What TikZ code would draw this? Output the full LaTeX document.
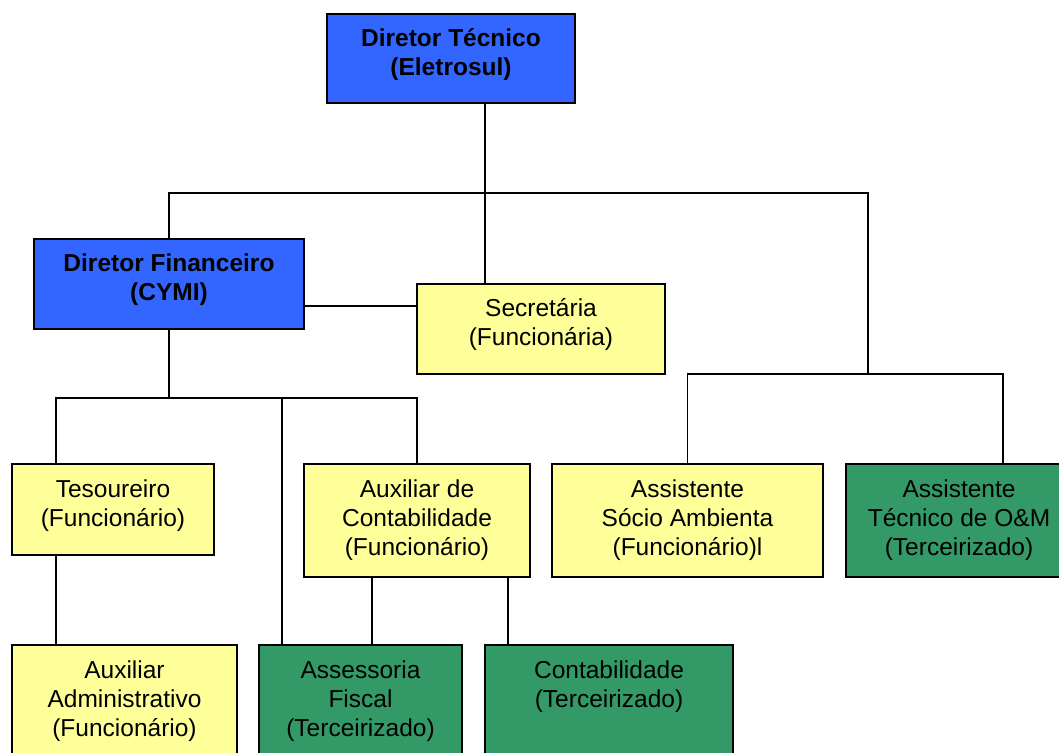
\documentclass[tikz,border=0pt]{standalone}
\usepackage{fontspec}
\setmainfont{Liberation Sans}
\definecolor{blu}{HTML}{3366FF}
\definecolor{yel}{HTML}{FFFF99}
\definecolor{grn}{HTML}{339966}
\newcommand{\ml}[1]{\begin{tabular}[t]{@{}c@{}}#1\end{tabular}}
\begin{document}
\begin{tikzpicture}[x=1pt,y=1pt,
  box/.style={draw=black, line width=1.3pt, inner sep=0pt, outer sep=0pt, anchor=north west},
  bluebox/.style={box, fill=blu},
  yelbox/.style={box, fill=yel},
  grnbox/.style={box, fill=grn},
  lbl/.style={anchor=base, inner sep=0pt, font=\fontsize{24.5}{29}\selectfont},
  lblb/.style={anchor=base, inner sep=0pt, font=\fontsize{24.5}{29}\selectfont\bfseries},
  wire/.style={draw=black, line width=1.3pt}]
\useasboundingbox (0,0) rectangle (1059,752);
\fill[white] (0,0) rectangle (1059,752);
% junction coordinates
\coordinate (bT) at (485,559);
\coordinate (bR) at (868,559);
\coordinate (bR2) at (868,378);
\coordinate (cOM) at (1003,378);
\coordinate (hS) at (304,446);
\coordinate (bF) at (169,354);
\coordinate (cT) at (56,354);
\coordinate (cA) at (282,354);
\coordinate (cX1) at (372,0);
\coordinate (cX2) at (508,0);
% boxes
\node[bluebox, minimum width=248pt, minimum height=89pt] (dt) at (327,738) {};
\node[bluebox, minimum width=270pt, minimum height=90pt] (df) at (34,513) {};
\node[yelbox, minimum width=248pt, minimum height=90pt] (sec) at (417,468) {};
\node[yelbox, minimum width=202pt, minimum height=91pt] (tes) at (12,288) {};
\node[yelbox, minimum width=226pt, minimum height=113pt] (auxc) at (304,288) {};
\node[yelbox, minimum width=271pt, minimum height=113pt] (soc) at (552,288) {};
\node[grnbox, minimum width=226pt, minimum height=113pt] (om) at (846,288) {};
\node[yelbox, minimum width=225pt, minimum height=120pt] (adm) at (12,107) {};
\node[grnbox, minimum width=203pt, minimum height=120pt] (asf) at (259,107) {};
\node[grnbox, minimum width=248pt, minimum height=120pt] (cont) at (485,107) {};
% connectors
\draw[wire] (bT |- dt.south) -- (bT |- sec.north);
\draw[wire] (df.north) |- (bR) -- (bR2);
\draw[wire] (soc.north) |- (cOM) -- (cOM |- om.north);
\draw[wire] (df.east |- hS) -- (sec.west |- hS);
\draw[wire] (df.south) -- (bF);
\draw[wire] (cT |- tes.north) |- (auxc.north |- bF) -- (auxc.north);
\draw[wire] (cA) -- (cA |- asf.north);
\draw[wire] (cT |- tes.south) -- (cT |- adm.north);
\draw[wire] (cX1 |- auxc.south) -- (cX1 |- asf.north);
\draw[wire] (cX2 |- auxc.south) -- (cX2 |- cont.north);
% labels
\node[lblb] (dtt) at ([yshift=-33pt]dt.north) {\ml{Diretor Técnico\\(Eletrosul)}};
\node[lblb] (dft) at ([yshift=-33pt]df.north) {\ml{Diretor Financeiro\\(CYMI)}};
\node[lbl] (sect) at ([yshift=-33pt]sec.north) {\ml{Secretária\\(Funcionária)}};
\node[lbl] (test) at ([yshift=-34pt]tes.north) {\ml{Tesoureiro\\(Funcionário)}};
\node[lbl] (auxct) at ([yshift=-34pt]auxc.north) {\ml{Auxiliar de\\Contabilidade\\(Funcionário)}};
\node[lbl] (soct) at ([yshift=-34pt]soc.north) {\ml{Assistente\\Sócio Ambienta\\(Funcionário)l}};
\node[lbl] (omt) at ([yshift=-34pt]om.north) {\ml{Assistente\\Técnico de O\&M\\(Terceirizado)}};
\node[lbl] (admt) at ([yshift=-33pt]adm.north) {\ml{Auxiliar\\Administrativo\\(Funcionário)}};
\node[lbl] (asft) at ([yshift=-33pt]asf.north) {\ml{Assessoria\\Fiscal\\(Terceirizado)}};
\node[lbl] (contt) at ([yshift=-33pt]cont.north) {\ml{Contabilidade\\(Terceirizado)}};
\end{tikzpicture}
\end{document}
